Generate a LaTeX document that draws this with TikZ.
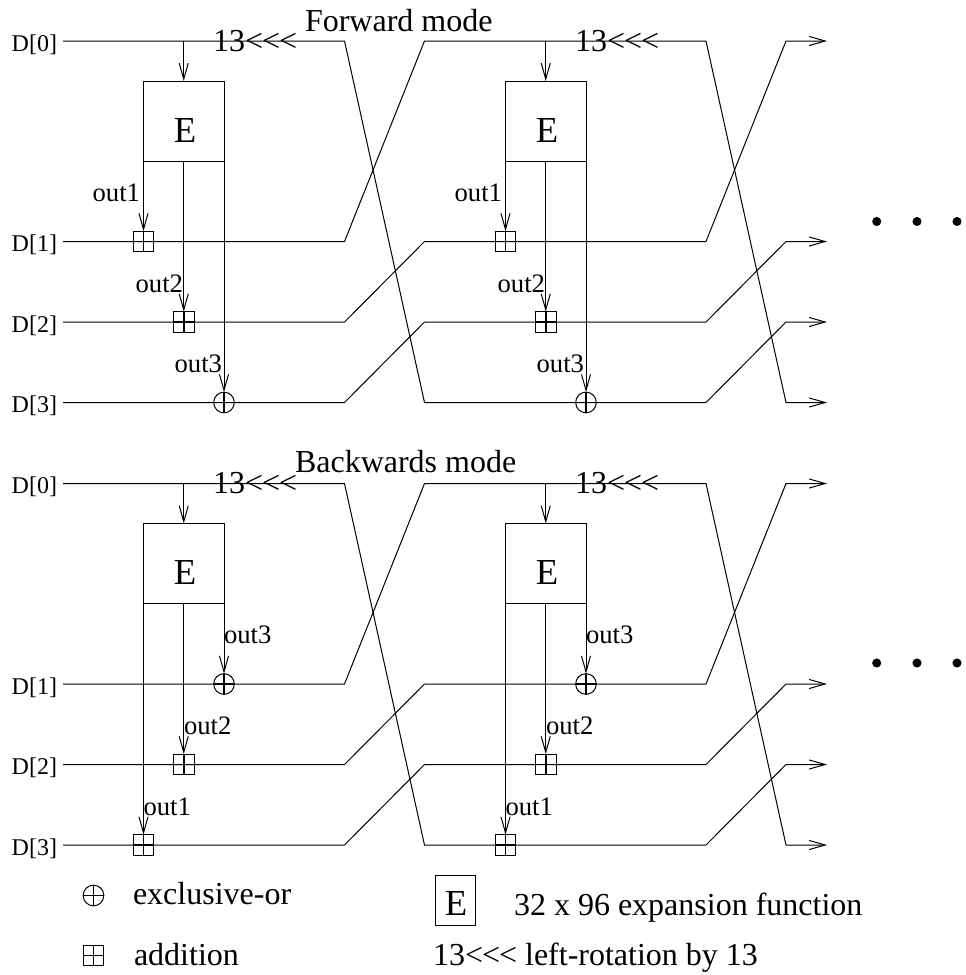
\documentclass[tikz,border=0pt]{standalone}
\usepackage{fontspec}
\setmainfont{Liberation Serif}
\usetikzlibrary{arrows.meta,calc}
\newcommand{\pxsize}[1]{\fontsize{#1}{#1}\selectfont}
\newcommand{\rotsym}{13<\kern-0.75pt<\kern-0.75pt<}
\tikzset{
  plusw/.store in=\pluswd, plusw=0.75pt,
  wire/.style={line width=0.75pt,line join=miter},
  vee/.style={-{Straight Barb[length=12pt,width=6.8pt,line width=0.75pt]}},
  txt/.style={inner sep=0pt,outer sep=0pt,anchor=base west,font=\pxsize{24pt}},
  lbl/.style={inner sep=0pt,outer sep=0pt,anchor=base east,font=\pxsize{18pt}},
  outl/.style={inner sep=0pt,outer sep=0pt,font=\pxsize{20pt}},
  eltr/.style={inner sep=0pt,outer sep=0pt,anchor=base,font=\pxsize{27.5pt}},
  ebox/.style={draw,line width=0.75pt,inner sep=0pt,outer sep=0pt,minimum width=60.375pt,minimum height=60pt},
  legbox/.style={draw,line width=0.75pt,inner sep=0pt,outer sep=0pt,minimum width=30pt,minimum height=37.5pt},
  plusmark/.style={path picture={
     \draw[line width=\pluswd] (path picture bounding box.north)--(path picture bounding box.south);
     \draw[line width=\pluswd] (path picture bounding box.west)--(path picture bounding box.east);}},
  symbox/.style={draw,line width=0.75pt,inner sep=0pt,outer sep=0pt,minimum size=15.5pt,rectangle,plusmark},
  symcirc/.style={draw,line width=0.75pt,inner sep=0pt,outer sep=0pt,minimum size=15.5pt,circle,plusmark},
  dotn/.style={fill,circle,inner sep=0pt,minimum size=6.8pt},
}
\begin{document}
\begin{tikzpicture}[x=0.75pt,y=-0.75pt]
\useasboundingbox (0,0) rectangle (965,975);
% rails
\foreach \m/\dy in {f/0,b/442.5}{
  \foreach \i/\yy in {0/41,1/241.5,2/322,3/402.5}{
    \coordinate (p\m0\i) at (63,{\yy+\dy});
    \coordinate (q\m0\i) at (344.5,{\yy+\dy});
    \coordinate (p\m1\i) at (424.5,{\yy+\dy});
    \coordinate (q\m1\i) at (706,{\yy+\dy});
    \coordinate (p\m2\i) at (786,{\yy+\dy});
    \coordinate (t\m\i) at (827,{\yy+\dy});
    \node[lbl] (D\m\i) at (57,{\yy+\dy+10}) {D[\i]};
  }
  \foreach \i/\j/\k in {0/3/2,1/0/3,2/1/0,3/2/1}{
    \draw[wire,vee] (p\m0\i) -- (q\m0\i) -- (p\m1\j) -- (q\m1\j) -- (p\m2\k) -- (t\m\k);
  }
  \foreach \r/\dx in {0/0,1/362}{
    \node[ebox] (E\m\r) at ({183.75+\dx},{121+\dy}) {};
    \node[eltr] (L\m\r) at ({185+\dx},{142+\dy}) {E};
    \coordinate (c\m\r) at ({183.75+\dx},{41+\dy});
    \draw[wire,vee] (c\m\r) -- (E\m\r.north);
    \node[txt] (rot\m\r) at ({213+\dx},{51+\dy}) {\rotsym};
  }
}
\foreach \r/\dx in {0/0,1/362}{
  % forward
  \node[symbox,plusw=1.3pt] (fa\r) at ({143.5+\dx},241.5) {};
  \node[symbox,plusw=1.3pt] (fb\r) at ({183.75+\dx},322) {};
  \node[symcirc,plusw=1.3pt] (fc\r) at ({224+\dx},402.5) {};
  \draw[wire,vee] (Ef\r.south west) -- (fa\r.north);
  \draw[wire,vee] (Ef\r.south) -- (fb\r.north);
  \draw[wire,vee] (Ef\r.south east) -- (fc\r.north);
  \node[outl,anchor=base east] (fo1\r) at ({140+\dx},201) {out1};
  \node[outl,anchor=base east] (fo2\r) at ({183+\dx},292) {out2};
  \node[outl,anchor=base east] (fo3\r) at ({222+\dx},372) {out3};
  % backwards
  \node[symcirc,plusw=1.3pt] (bc\r) at ({224+\dx},684) {};
  \node[symbox,plusw=1.3pt] (bb\r) at ({183.75+\dx},764.5) {};
  \node[symbox,plusw=1.3pt] (ba\r) at ({143.5+\dx},845) {};
  \draw[wire,vee] (Eb\r.south east) -- (bc\r.north);
  \draw[wire,vee] (Eb\r.south) -- (bb\r.north);
  \draw[wire,vee] (Eb\r.south west) -- (ba\r.north);
  \node[outl,anchor=base west] (bo3\r) at ({224+\dx},643.5) {out3};
  \node[outl,anchor=base west] (bo2\r) at ({184+\dx},734) {out2};
  \node[outl,anchor=base west] (bo1\r) at ({143.5+\dx},815) {out1};
}
% titles
\node[txt] (tf) at (305,31) {Forward mode};
\node[txt] (tb) at (295,472) {Backwards mode};
% ellipses
\foreach \n/\yy in {a/221.5,b/663}{
  \foreach \k/\xx in {1/876.7,2/917,3/957}{
    \node[dotn] (dot\n\k) at (\xx,\yy) {};
  }
}
% legend
\node[symcirc] (lx) at (93.5,895.5) {};
\node[symbox] (la) at (93.5,955.5) {};
\node[txt] (lxt) at (133,904) {exclusive-or};
\node[txt] (lat) at (134,965) {addition};
\node[legbox] (lE) at (455,900) {};
\node[eltr] (lEl) at (456,915) {E};
\node[txt] (lEt) at (514,915) {32 x 96 expansion function};
\node[txt] (lrt) at (433,965) {\rotsym\ left-rotation by 13};
\end{tikzpicture}
\end{document}
